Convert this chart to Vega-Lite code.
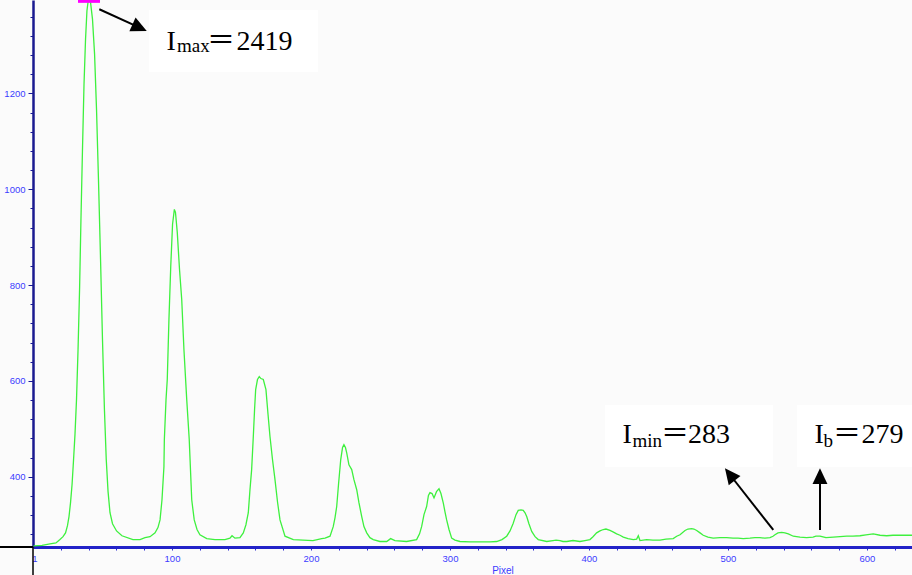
{
  "$schema": "https://vega.github.io/schema/vega-lite/v6.json",
  "width": 879,
  "height": 547,
  "autosize": {"type": "none"},
  "padding": {"left": 33, "top": 0, "right": 0, "bottom": 28},
  "background": "#fbfbfb",
  "config": {"view": {"stroke": null}},
  "resolve": {"axis": {"x": "independent", "y": "independent"}},
  "layer": [
    {
      "data": {"values": [
        {"pixel": 0.4, "intensity": 256}, {"pixel": 6.5, "intensity": 257}, {"pixel": 12.2, "intensity": 260}, {"pixel": 16.5, "intensity": 262},
        {"pixel": 19.4, "intensity": 269}, {"pixel": 21.6, "intensity": 275}, {"pixel": 23.4, "intensity": 283}, {"pixel": 24.8, "intensity": 298},
        {"pixel": 25.9, "intensity": 317}, {"pixel": 27.0, "intensity": 346}, {"pixel": 28.1, "intensity": 384}, {"pixel": 29.1, "intensity": 432},
        {"pixel": 30.2, "intensity": 488}, {"pixel": 31.3, "intensity": 561}, {"pixel": 32.4, "intensity": 665}, {"pixel": 33.5, "intensity": 791},
        {"pixel": 34.5, "intensity": 937}, {"pixel": 35.6, "intensity": 1083}, {"pixel": 36.7, "intensity": 1219}, {"pixel": 37.8, "intensity": 1313},
        {"pixel": 38.8, "intensity": 1372}, {"pixel": 40.1, "intensity": 1403}, {"pixel": 41.4, "intensity": 1390}, {"pixel": 42.8, "intensity": 1355},
        {"pixel": 44.3, "intensity": 1282}, {"pixel": 45.7, "intensity": 1167}, {"pixel": 47.1, "intensity": 1021}, {"pixel": 48.6, "intensity": 853},
        {"pixel": 50.0, "intensity": 686}, {"pixel": 51.4, "intensity": 540}, {"pixel": 52.7, "intensity": 436}, {"pixel": 54.0, "intensity": 369},
        {"pixel": 55.4, "intensity": 325}, {"pixel": 57.2, "intensity": 302}, {"pixel": 60.1, "intensity": 287}, {"pixel": 64.0, "intensity": 277},
        {"pixel": 71.9, "intensity": 269},
        {"pixel": 77.0, "intensity": 269}, {"pixel": 80.6, "intensity": 273}, {"pixel": 84.2, "intensity": 275}, {"pixel": 87.8, "intensity": 283},
        {"pixel": 89.9, "intensity": 294}, {"pixel": 91.4, "intensity": 310}, {"pixel": 92.8, "intensity": 352}, {"pixel": 94.2, "intensity": 421},
        {"pixel": 94.5, "intensity": 478}, {"pixel": 95.7, "intensity": 561}, {"pixel": 96.6, "intensity": 603}, {"pixel": 97.8, "intensity": 728},
        {"pixel": 99.1, "intensity": 839}, {"pixel": 100.4, "intensity": 927}, {"pixel": 101.7, "intensity": 958}, {"pixel": 102.5, "intensity": 952},
        {"pixel": 103.8, "intensity": 910}, {"pixel": 105.4, "intensity": 833}, {"pixel": 107.0, "intensity": 770}, {"pixel": 108.6, "intensity": 665},
        {"pixel": 110.6, "intensity": 561}, {"pixel": 112.4, "intensity": 478}, {"pixel": 114.2, "intensity": 352}, {"pixel": 116.0, "intensity": 310},
        {"pixel": 118.0, "intensity": 290}, {"pixel": 120.1, "intensity": 279}, {"pixel": 125.0, "intensity": 271}, {"pixel": 130.9, "intensity": 269},
        {"pixel": 138.1, "intensity": 269}, {"pixel": 141.7, "intensity": 272}, {"pixel": 143.2, "intensity": 277}, {"pixel": 145.3, "intensity": 272},
        {"pixel": 148.9, "intensity": 273}, {"pixel": 151.3, "intensity": 283}, {"pixel": 153.2, "intensity": 300}, {"pixel": 154.9, "intensity": 325},
        {"pixel": 156.1, "intensity": 373}, {"pixel": 157.3, "intensity": 415}, {"pixel": 158.5, "intensity": 484}, {"pixel": 159.4, "intensity": 540},
        {"pixel": 160.2, "intensity": 582}, {"pixel": 161.5, "intensity": 603}, {"pixel": 162.8, "intensity": 609}, {"pixel": 164.0, "intensity": 605},
        {"pixel": 165.7, "intensity": 603}, {"pixel": 167.6, "intensity": 582}, {"pixel": 169.1, "intensity": 530}, {"pixel": 170.5, "intensity": 484},
        {"pixel": 172.3, "intensity": 436}, {"pixel": 174.1, "intensity": 394}, {"pixel": 175.9, "intensity": 348}, {"pixel": 177.7, "intensity": 310},
        {"pixel": 181.3, "intensity": 276}, {"pixel": 187.3, "intensity": 269}, {"pixel": 194.2, "intensity": 268}, {"pixel": 201.4, "intensity": 267},
        {"pixel": 207.7, "intensity": 271}, {"pixel": 210.1, "intensity": 272}, {"pixel": 213.7, "intensity": 276}, {"pixel": 216.0, "intensity": 296},
        {"pixel": 217.3, "intensity": 315}, {"pixel": 218.5, "intensity": 338}, {"pixel": 219.8, "intensity": 384}, {"pixel": 221.4, "intensity": 436},
        {"pixel": 222.7, "intensity": 461}, {"pixel": 223.7, "intensity": 467}, {"pixel": 224.8, "intensity": 461}, {"pixel": 225.7, "intensity": 450},
        {"pixel": 227.3, "intensity": 425}, {"pixel": 229.3, "intensity": 415}, {"pixel": 230.9, "intensity": 394}, {"pixel": 232.9, "intensity": 373},
        {"pixel": 234.5, "intensity": 346}, {"pixel": 236.5, "intensity": 317}, {"pixel": 238.1, "intensity": 296}, {"pixel": 240.1, "intensity": 283},
        {"pixel": 242.4, "intensity": 273}, {"pixel": 244.8, "intensity": 269}, {"pixel": 249.6, "intensity": 265}, {"pixel": 254.5, "intensity": 265},
        {"pixel": 257.3, "intensity": 271}, {"pixel": 260.4, "intensity": 267}, {"pixel": 268.8, "intensity": 265}, {"pixel": 276.0, "intensity": 269},
        {"pixel": 278.1, "intensity": 281}, {"pixel": 279.6, "intensity": 296}, {"pixel": 281.3, "intensity": 321}, {"pixel": 283.2, "intensity": 338},
        {"pixel": 284.5, "intensity": 361}, {"pixel": 285.6, "intensity": 367}, {"pixel": 287.1, "intensity": 365}, {"pixel": 288.5, "intensity": 356},
        {"pixel": 290.3, "intensity": 369}, {"pixel": 292.1, "intensity": 375}, {"pixel": 293.5, "intensity": 365}, {"pixel": 295.2, "intensity": 345},
        {"pixel": 296.4, "intensity": 327}, {"pixel": 297.6, "intensity": 310}, {"pixel": 299.3, "intensity": 290}, {"pixel": 301.2, "intensity": 272},
        {"pixel": 303.6, "intensity": 268}, {"pixel": 307.2, "intensity": 265}, {"pixel": 314.4, "intensity": 264}, {"pixel": 321.6, "intensity": 264},
        {"pixel": 328.8, "intensity": 264}, {"pixel": 333.6, "intensity": 265}, {"pixel": 337.4, "intensity": 269}, {"pixel": 340.8, "intensity": 276},
        {"pixel": 343.2, "intensity": 287}, {"pixel": 345.5, "intensity": 303}, {"pixel": 347.5, "intensity": 321}, {"pixel": 349.1, "intensity": 330},
        {"pixel": 351.1, "intensity": 331}, {"pixel": 352.7, "intensity": 330}, {"pixel": 354.0, "intensity": 325}, {"pixel": 355.2, "intensity": 317},
        {"pixel": 356.8, "intensity": 302}, {"pixel": 358.8, "intensity": 286}, {"pixel": 361.2, "intensity": 275}, {"pixel": 363.5, "intensity": 269},
        {"pixel": 369.6, "intensity": 265}, {"pixel": 374.1, "intensity": 267}, {"pixel": 376.3, "intensity": 268}, {"pixel": 379.1, "intensity": 267},
        {"pixel": 381.3, "intensity": 265}, {"pixel": 384.0, "intensity": 265}, {"pixel": 388.5, "intensity": 267}, {"pixel": 393.5, "intensity": 265},
        {"pixel": 397.1, "intensity": 267}, {"pixel": 400.7, "intensity": 269}, {"pixel": 402.9, "intensity": 275}, {"pixel": 405.5, "intensity": 283},
        {"pixel": 407.9, "intensity": 287}, {"pixel": 410.3, "intensity": 290}, {"pixel": 412.2, "intensity": 291}, {"pixel": 415.1, "intensity": 288},
        {"pixel": 417.3, "intensity": 285}, {"pixel": 419.9, "intensity": 281}, {"pixel": 422.3, "intensity": 278}, {"pixel": 424.7, "intensity": 274},
        {"pixel": 428.1, "intensity": 271}, {"pixel": 431.9, "intensity": 269}, {"pixel": 434.3, "intensity": 270}, {"pixel": 435.5, "intensity": 277},
        {"pixel": 436.7, "intensity": 267}, {"pixel": 441.5, "intensity": 269}, {"pixel": 446.0, "intensity": 268}, {"pixel": 451.1, "intensity": 268},
        {"pixel": 455.4, "intensity": 270}, {"pixel": 460.6, "intensity": 271}, {"pixel": 463.1, "intensity": 276}, {"pixel": 465.5, "intensity": 279},
        {"pixel": 469.1, "intensity": 288}, {"pixel": 471.2, "intensity": 291}, {"pixel": 473.9, "intensity": 292}, {"pixel": 475.5, "intensity": 291},
        {"pixel": 477.5, "intensity": 288}, {"pixel": 479.9, "intensity": 283}, {"pixel": 482.2, "intensity": 278}, {"pixel": 485.6, "intensity": 274},
        {"pixel": 489.4, "intensity": 272}, {"pixel": 494.2, "intensity": 273}, {"pixel": 499.1, "intensity": 273}, {"pixel": 503.6, "intensity": 272},
        {"pixel": 507.2, "intensity": 272}, {"pixel": 511.0, "intensity": 271}, {"pixel": 515.8, "intensity": 272}, {"pixel": 519.4, "intensity": 273},
        {"pixel": 523.0, "intensity": 273}, {"pixel": 526.6, "intensity": 272}, {"pixel": 530.2, "intensity": 273}, {"pixel": 532.4, "intensity": 276},
        {"pixel": 533.8, "intensity": 279}, {"pixel": 536.0, "intensity": 283}, {"pixel": 538.6, "intensity": 284}, {"pixel": 541.0, "intensity": 283},
        {"pixel": 543.4, "intensity": 281}, {"pixel": 547.0, "intensity": 276}, {"pixel": 551.8, "intensity": 274}, {"pixel": 556.6, "intensity": 273},
        {"pixel": 561.2, "intensity": 274}, {"pixel": 563.3, "intensity": 276}, {"pixel": 566.2, "intensity": 276}, {"pixel": 570.5, "intensity": 273},
        {"pixel": 575.8, "intensity": 274}, {"pixel": 580.6, "intensity": 275}, {"pixel": 585.4, "intensity": 276}, {"pixel": 589.9, "intensity": 276},
        {"pixel": 595.0, "intensity": 277}, {"pixel": 599.3, "intensity": 279}, {"pixel": 604.5, "intensity": 281}, {"pixel": 609.4, "intensity": 278},
        {"pixel": 614.2, "intensity": 277}, {"pixel": 618.7, "intensity": 278}, {"pixel": 623.7, "intensity": 278}, {"pixel": 628.1, "intensity": 278},
        {"pixel": 632.4, "intensity": 278}
      ]},
      "mark": {"type": "line", "color": "#3ef03e", "strokeWidth": 1.3, "clip": true},
      "encoding": {
        "x": {
          "field": "pixel", "type": "quantitative",
          "scale": {"domain": [0, 632.4], "nice": false, "zero": false},
          "axis": {
            "orient": "bottom",
            "values": [20, 40, 60, 80, 100, 120, 140, 160, 180, 200, 220, 240, 260, 280, 300, 320, 340, 360, 380, 400, 420, 440, 460, 480, 500, 520, 540, 560, 580, 600, 620],
            "labels": false, "grid": false,
            "tickSize": 3, "tickWidth": 1, "tickColor": "#2a2ad0",
            "domainColor": "#2222c8", "domainWidth": 3,
            "title": "Pixel", "titleColor": "#3c3cff", "titleFont": "Liberation Sans", "titleFontSize": 10, "titleFontWeight": "normal",
            "titleX": 469.5, "titleY": 26, "titleBaseline": "alphabetic", "titleAlign": "center", "titleAnchor": null
          }
        },
        "y": {
          "field": "intensity", "type": "quantitative",
          "scale": {"domain": [253.5, 1395], "nice": false, "zero": false},
          "axis": {
            "orient": "left",
            "values": [280, 320, 360, 400, 440, 480, 520, 560, 600, 640, 680, 720, 760, 800, 840, 880, 920, 960, 1000, 1040, 1080, 1120, 1160, 1200, 1240, 1280, 1320, 1360],
            "labels": false, "grid": false,
            "tickSize": {"condition": {"test": "datum.value % 200 == 0", "value": 5}, "value": 3},
            "tickWidth": 1, "tickColor": "#1a1a99",
            "domainColor": "#1a1a90", "domainWidth": 2.5,
            "title": null
          }
        }
      }
    },
    {
      "data": {"values": [{}]},
      "mark": {"type": "point", "opacity": 0},
      "encoding": {
        "x": {"datum": 300, "axis": {"orient": "bottom", "values": [1, 100, 200, 300, 400, 500, 600], "format": "d", "ticks": false, "domain": false, "grid": false, "labelOverlap": false, "labelFlush": false, "labelColor": "#3c3cff", "labelFont": "Liberation Sans", "labelFontSize": 9.5, "labelPadding": 6, "title": null}},
        "y": {"datum": 600, "axis": {"orient": "left", "values": [400, 600, 800, 1000, 1200], "format": "d", "ticks": false, "domain": false, "grid": false, "labelOverlap": false, "labelFlush": false, "labelColor": "#3c3cff", "labelFont": "Liberation Sans", "labelFontSize": 9.5, "labelPadding": 8, "title": null}}
      }
    },
    {
      "data": {"values": [{}]},
      "mark": {"type": "point", "shape": "square", "filled": true, "size": 484, "color": "#ff00ff", "opacity": 1, "clip": true},
      "encoding": {"x": {"datum": 40.3, "axis": null}, "y": {"datum": 1412, "axis": null}}
    },
    {
      "data": {"values": [{}]},
      "mark": {"type": "rule", "color": "black", "strokeWidth": 2},
      "encoding": {"x": {"datum": -23.74, "axis": null}, "x2": {"datum": 0}, "y": {"datum": 253.5, "axis": null}}
    },
    {
      "data": {"values": [{}]},
      "mark": {"type": "rule", "color": "black", "strokeWidth": 1.5},
      "encoding": {"x": {"datum": 0, "axis": null}, "y": {"datum": 253.5, "axis": null}, "y2": {"datum": 195}}
    },
    {
      "data": {"values": [{}]},
      "mark": {"type": "rect", "color": "#ffffff"},
      "encoding": {"x": {"datum": 83.5, "axis": null}, "x2": {"datum": 205.0}, "y": {"datum": 1374.2, "axis": null}, "y2": {"datum": 1244.8}}
    },
    {
      "data": {"values": [{}]},
      "mark": {"type": "rect", "color": "#ffffff"},
      "encoding": {"x": {"datum": 411.5, "axis": null}, "x2": {"datum": 532.4}, "y": {"datum": 549.9, "axis": null}, "y2": {"datum": 420.5}}
    },
    {
      "data": {"values": [{}]},
      "mark": {"type": "rect", "color": "#ffffff"},
      "encoding": {"x": {"datum": 549.6, "axis": null}, "x2": {"datum": 632.4}, "y": {"datum": 549.9, "axis": null}, "y2": {"datum": 420.5}}
    },
    {
      "data": {"values": [{}]},
      "mark": {"type": "text", "text": "I", "font": "Liberation Serif", "fontSize": 28, "align": "left", "baseline": "alphabetic", "color": "black"},
      "encoding": {"x": {"datum": 96.0, "axis": null}, "y": {"datum": 1290.7, "axis": null}}
    },
    {
      "data": {"values": [{}]},
      "mark": {"type": "text", "text": "max", "font": "Liberation Serif", "fontSize": 19, "align": "left", "baseline": "alphabetic", "color": "black"},
      "encoding": {"x": {"datum": 103.6, "axis": null}, "y": {"datum": 1286.6, "axis": null}}
    },
    {
      "data": {"values": [{}]},
      "mark": {"type": "text", "text": "＝", "font": "Noto Sans CJK JP", "fontSize": 28, "align": "left", "baseline": "alphabetic", "color": "black"},
      "encoding": {"x": {"datum": 125.2, "axis": null}, "y": {"datum": 1290.7, "axis": null}}
    },
    {
      "data": {"values": [{}]},
      "mark": {"type": "text", "text": "2419", "font": "Liberation Serif", "fontSize": 28, "align": "left", "baseline": "alphabetic", "color": "black"},
      "encoding": {"x": {"datum": 146.4, "axis": null}, "y": {"datum": 1290.7, "axis": null}}
    },
    {
      "data": {"values": [{}]},
      "mark": {"type": "text", "text": "I", "font": "Liberation Serif", "fontSize": 28, "align": "left", "baseline": "alphabetic", "color": "black"},
      "encoding": {"x": {"datum": 424.1, "axis": null}, "y": {"datum": 469.9, "axis": null}}
    },
    {
      "data": {"values": [{}]},
      "mark": {"type": "text", "text": "min", "font": "Liberation Serif", "fontSize": 19, "align": "left", "baseline": "alphabetic", "color": "black"},
      "encoding": {"x": {"datum": 431.3, "axis": null}, "y": {"datum": 462.2, "axis": null}}
    },
    {
      "data": {"values": [{}]},
      "mark": {"type": "text", "text": "＝", "font": "Noto Sans CJK JP", "fontSize": 28, "align": "left", "baseline": "alphabetic", "color": "black"},
      "encoding": {"x": {"datum": 451.8, "axis": null}, "y": {"datum": 469.9, "axis": null}}
    },
    {
      "data": {"values": [{}]},
      "mark": {"type": "text", "text": "283", "font": "Liberation Serif", "fontSize": 28, "align": "left", "baseline": "alphabetic", "color": "black"},
      "encoding": {"x": {"datum": 471.2, "axis": null}, "y": {"datum": 469.9, "axis": null}}
    },
    {
      "data": {"values": [{}]},
      "mark": {"type": "text", "text": "I", "font": "Liberation Serif", "fontSize": 28, "align": "left", "baseline": "alphabetic", "color": "black"},
      "encoding": {"x": {"datum": 562.2, "axis": null}, "y": {"datum": 469.9, "axis": null}}
    },
    {
      "data": {"values": [{}]},
      "mark": {"type": "text", "text": "b", "font": "Liberation Serif", "fontSize": 19, "align": "left", "baseline": "alphabetic", "color": "black"},
      "encoding": {"x": {"datum": 568.7, "axis": null}, "y": {"datum": 462.2, "axis": null}}
    },
    {
      "data": {"values": [{}]},
      "mark": {"type": "text", "text": "＝", "font": "Noto Sans CJK JP", "fontSize": 28, "align": "left", "baseline": "alphabetic", "color": "black"},
      "encoding": {"x": {"datum": 575.5, "axis": null}, "y": {"datum": 469.9, "axis": null}}
    },
    {
      "data": {"values": [{}]},
      "mark": {"type": "text", "text": "279", "font": "Liberation Serif", "fontSize": 28, "align": "left", "baseline": "alphabetic", "color": "black"},
      "encoding": {"x": {"datum": 596.0, "axis": null}, "y": {"datum": 469.9, "axis": null}}
    },
    {
      "data": {"values": [{}]},
      "mark": {"type": "rule", "color": "black", "strokeWidth": 2},
      "encoding": {"x": {"datum": 47.7, "axis": null}, "y": {"datum": 1375.7, "axis": null}, "x2": {"datum": 76.7}, "y2": {"datum": 1337.3}}
    },
    {
      "data": {"values": [{}]},
      "mark": {"type": "point", "shape": "M0,-1L0.95,1L-0.95,1Z", "filled": true, "size": 246, "color": "black", "opacity": 1, "angle": 114.6},
      "encoding": {"x": {"datum": 76.7, "axis": null}, "y": {"datum": 1337.3, "axis": null}}
    },
    {
      "data": {"values": [{}]},
      "mark": {"type": "rule", "color": "black", "strokeWidth": 2},
      "encoding": {"x": {"datum": 532.6, "axis": null}, "y": {"datum": 289, "axis": null}, "x2": {"datum": 501.3}, "y2": {"datum": 404.8}}
    },
    {
      "data": {"values": [{}]},
      "mark": {"type": "point", "shape": "M0,-1L0.95,1L-0.95,1Z", "filled": true, "size": 246, "color": "black", "opacity": 1, "angle": -38},
      "encoding": {"x": {"datum": 501.3, "axis": null}, "y": {"datum": 404.8, "axis": null}}
    },
    {
      "data": {"values": [{}]},
      "mark": {"type": "rule", "color": "black", "strokeWidth": 2},
      "encoding": {"x": {"datum": 566.2, "axis": null}, "y": {"datum": 289, "axis": null}, "y2": {"datum": 401.3}}
    },
    {
      "data": {"values": [{}]},
      "mark": {"type": "point", "shape": "M0,-1L0.95,1L-0.95,1Z", "filled": true, "size": 246, "color": "black", "opacity": 1, "angle": 0},
      "encoding": {"x": {"datum": 566.2, "axis": null}, "y": {"datum": 401.3, "axis": null}}
    }
  ]
}
